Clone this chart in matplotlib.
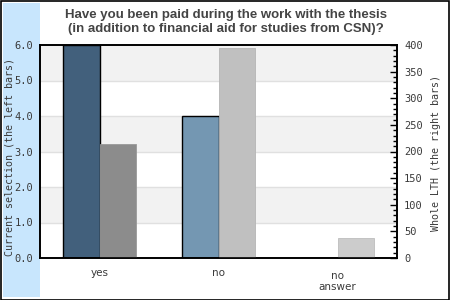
import matplotlib
matplotlib.use("Agg")
import matplotlib.pyplot as plt
from matplotlib.patches import Rectangle
from matplotlib.ticker import MultipleLocator, FormatStrFormatter
import matplotlib.transforms as mtrans
import numpy as np

categories = ["yes", "no", "no\nanswer"]
current_selection = [6.0, 4.0, 0.0]
whole_lth = [214, 395, 38]
left_colors = ["#42607c", "#7497b2", "#9ab5cc"]
right_colors = ["#8c8c8c", "#c0c0c0", "#cccccc"]
title = "Have you been paid during the work with the thesis\n(in addition to financial aid for studies from CSN)?"

W, H = 450, 300
fig = plt.figure(figsize=(4.5, 3), dpi=100)
fig.patch.set_facecolor("white")

# light blue strip on the left
fig.patches.append(Rectangle((3 / W, 3 / H), 37 / W, 294 / H, transform=fig.transFigure,
                             facecolor="#c8e6fd", edgecolor="none", zorder=-1))
# outer border
fig.patches.append(Rectangle((0.5 / W, 0.5 / H), 1 - 1.5 / W, 1 - 1.5 / H, transform=fig.transFigure,
                             facecolor="none", edgecolor="black", linewidth=1.2, zorder=10))

left, right, top, bottom = 40, 397, 45, 258
ax = fig.add_axes([left / W, 1 - bottom / H, (right - left) / W, (bottom - top) / H])
ax.set_facecolor("white")
ax.set_xlim(-0.5, len(categories) - 0.5)
ax.set_ylim(0, 6)

# alternating bands
for y0 in [1, 3, 5]:
    ax.axhspan(y0, y0 + 1, facecolor="#f2f2f2", edgecolor="none", zorder=0)
for y in [1, 2, 3, 4, 5]:
    ax.axhline(y, color="#e0e0e0", linewidth=1, zorder=0.5)

x = np.arange(len(categories))
w = 0.303
ax.bar(x, current_selection, width=-w, align="edge", color=left_colors,
       edgecolor="black", linewidth=1, zorder=2)

ax2 = ax.twinx()
ax2.set_ylim(0, 400)
ax2.bar(x, whole_lth, width=w, align="edge", color=right_colors,
        edgecolor=["#999999", "#b5b5b5", "#bdbdbd"], linewidth=0.6, zorder=2)
ax2.patch.set_visible(False)
ax.set_zorder(1)
ax2.set_zorder(2)

mono = "DejaVu Sans Mono"
tcol = "#3a3a3a"

ax.set_yticks([0, 1, 2, 3, 4, 5, 6])
ax.yaxis.set_major_formatter(FormatStrFormatter("%.1f"))
ax.tick_params(axis="y", length=0, pad=5, labelsize=7.5, labelcolor=tcol)
for lab in ax.get_yticklabels():
    lab.set_family(mono)

ax.set_xticks(x)
ax.set_xticklabels(categories)
ax.tick_params(axis="x", length=0, pad=7, labelsize=7.5, labelcolor=tcol)
for lab in ax.get_xticklabels():
    lab.set_family("DejaVu Sans")
    lab.set_linespacing(1.2)
xl = ax.get_xticklabels()[2]
xl.set_transform(xl.get_transform() + mtrans.ScaledTranslation(0, -3 / 100, fig.dpi_scale_trans))

ax2.yaxis.set_major_locator(MultipleLocator(50))
ax2.yaxis.set_minor_locator(MultipleLocator(10))
ax2.tick_params(axis="y", which="major", direction="in", length=5, width=1, pad=5,
                labelsize=7.5, labelcolor=tcol)
ax2.tick_params(axis="y", which="minor", direction="in", length=3, width=1)
for lab in ax2.get_yticklabels():
    lab.set_family(mono)

for a in (ax, ax2):
    for s in a.spines.values():
        s.set_color("black")
        s.set_linewidth(1.2)

fig.text(10 / W, 1 - 157 / H, "Current selection (the left bars)", rotation=90,
         ha="center", va="center", fontsize=7.2, family=mono, color=tcol, zorder=5)
fig.text(436 / W, 1 - 153 / H, "Whole LTH (the right bars)", rotation=90,
         ha="center", va="center", fontsize=7.2, family=mono, color=tcol, zorder=5)

fig.text(226 / W, 1 - 22 / H, title, ha="center", va="center", fontsize=9.5,
         fontweight="bold", family="Liberation Sans", color="#444444", linespacing=1.2, zorder=5)

fig.savefig("out.png", dpi=100)
